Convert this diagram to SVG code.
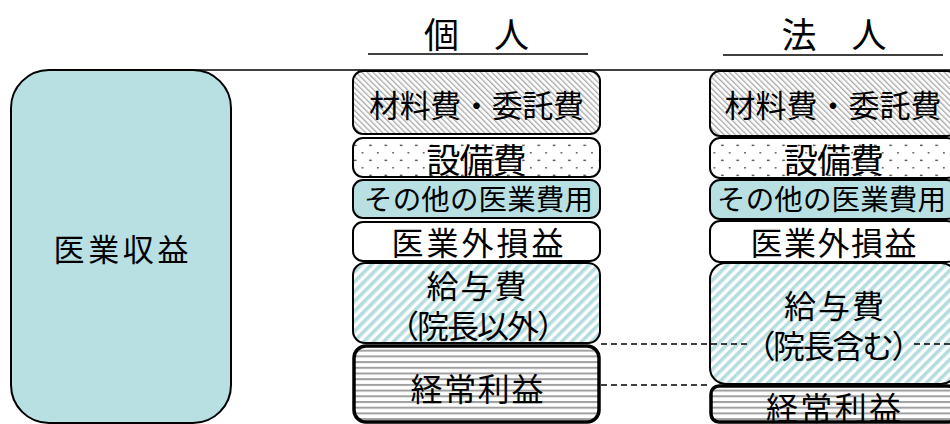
<svg xmlns="http://www.w3.org/2000/svg" width="950" height="424" viewBox="0 0 950 424">
<style>
text{font-family:"Noto Sans CJK JP","Noto Sans CJK SC",sans-serif;font-weight:400;fill:#000;text-anchor:middle}
.box{stroke:#000;stroke-width:2}
.thick{stroke:#000;stroke-width:3.5}
.rule{stroke:#000;stroke-width:1.5;fill:none}
.dash{stroke:#000;stroke-width:1.3;stroke-dasharray:6 4;fill:none}
</style>
<defs>
<pattern id="hatch" width="4" height="4" patternUnits="userSpaceOnUse" patternTransform="rotate(-45)">
<rect width="4" height="4" fill="#fff"/>
<rect width="1.3" height="4" fill="#a8a8a8"/>
</pattern>
<pattern id="dots" width="15.3" height="15" patternUnits="userSpaceOnUse" x="3" y="2">
<rect width="15.3" height="15" fill="#fff"/>
<circle cx="7.6" cy="0.8" r="0.9" fill="#555"/>
<circle cx="0.8" cy="8.3" r="0.9" fill="#555"/>
<circle cx="15.1" cy="8.3" r="0.9" fill="#555"/>
</pattern>
<pattern id="cyanStripe" width="7" height="7" patternUnits="userSpaceOnUse" patternTransform="rotate(45)">
<rect width="7" height="7" fill="#fff"/>
<rect width="3.6" height="7" fill="#b5dde0"/>
</pattern>
<pattern id="hstripe" width="10" height="5.7" patternUnits="userSpaceOnUse" y="2">
<rect width="10" height="5.7" fill="#fff"/>
<rect width="10" height="2" fill="#a0a0a0"/>
</pattern>
</defs>

<g id="decor">
<line class="rule" x1="190" y1="70" x2="950" y2="70"/>
<line class="rule" x1="368" y1="54" x2="588" y2="54"/>
<line class="rule" x1="723" y1="55" x2="943" y2="55"/>
<text x="476.5" y="48" font-size="35">個　人</text>
<text x="834" y="48" font-size="35">法　人</text>
</g>

<g id="revenue">
<rect class="box" x="11" y="70" width="220" height="353" rx="38" fill="#b8dfe2" stroke-width="1.5"/>
<text x="121" y="261" font-size="31" textLength="135">医業収益</text>
</g>

<g id="ind-material">
<rect class="box" x="353" y="71" width="247" height="63" rx="10" fill="url(#hatch)"/>
<text x="476.5" y="117" font-size="31" textLength="215">材料費・委託費</text>
</g>
<g id="ind-equipment">
<rect class="box" x="353" y="138" width="247" height="39" rx="10" fill="url(#dots)"/>
<text x="476.5" y="173" font-size="34" textLength="100">設備費</text>
</g>
<g id="ind-other">
<rect class="box" x="353" y="180" width="247" height="38" rx="10" fill="#b8dfe2"/>
<text x="478.5" y="210" font-size="28.5" textLength="229">その他の医業費用</text>
</g>
<g id="ind-nonop">
<rect class="box" x="353" y="222" width="247" height="39" rx="10" fill="#fff"/>
<text x="477.5" y="255" font-size="32" textLength="172">医業外損益</text>
</g>
<g id="ind-salary">
<rect class="box" x="353" y="263" width="247" height="80" rx="12" fill="url(#cyanStripe)"/>
<text x="476.5" y="298" font-size="32" textLength="100">給与費</text>
<text x="478" y="338" font-size="32" textLength="182">（院長以外）</text>
</g>
<g id="ind-profit">
<rect class="thick" x="354" y="346" width="245" height="76" rx="12" fill="url(#hstripe)"/>
<text x="477" y="401" font-size="32" textLength="133">経常利益</text>
</g>

<g id="corp-material">
<rect class="box" x="710" y="71" width="247" height="65" rx="10" fill="url(#hatch)"/>
<text x="833" y="117" font-size="31" textLength="217">材料費・委託費</text>
</g>
<g id="corp-equipment">
<rect class="box" x="710" y="138" width="247" height="40" rx="10" fill="url(#dots)"/>
<text x="834" y="173" font-size="34" textLength="100">設備費</text>
</g>
<g id="corp-other">
<rect class="box" x="710" y="180" width="247" height="39" rx="10" fill="#b8dfe2"/>
<text x="831.5" y="210" font-size="28.5" textLength="229">その他の医業費用</text>
</g>
<g id="corp-nonop">
<rect class="box" x="710" y="221" width="247" height="41" rx="10" fill="#fff"/>
<text x="833.5" y="255" font-size="32" textLength="166">医業外損益</text>
</g>
<g id="corp-salary">
<rect class="box" x="710" y="263" width="247" height="121" rx="16" fill="url(#cyanStripe)"/>
<text x="834" y="318" font-size="32" textLength="100">給与費</text>
<text x="833.5" y="358" font-size="32" textLength="180">（院長含む）</text>
</g>
<g id="corp-profit">
<rect class="thick" x="711" y="386" width="245" height="36" rx="8" fill="url(#hstripe)"/>
<text x="833.5" y="420" font-size="32" textLength="135">経常利益</text>
</g>

<g id="connectors">
<line class="dash" x1="601" y1="344" x2="750" y2="344"/>
<line class="dash" x1="914" y1="344" x2="950" y2="344"/>
<line class="dash" x1="601" y1="385" x2="710" y2="385"/>
</g>
</svg>
